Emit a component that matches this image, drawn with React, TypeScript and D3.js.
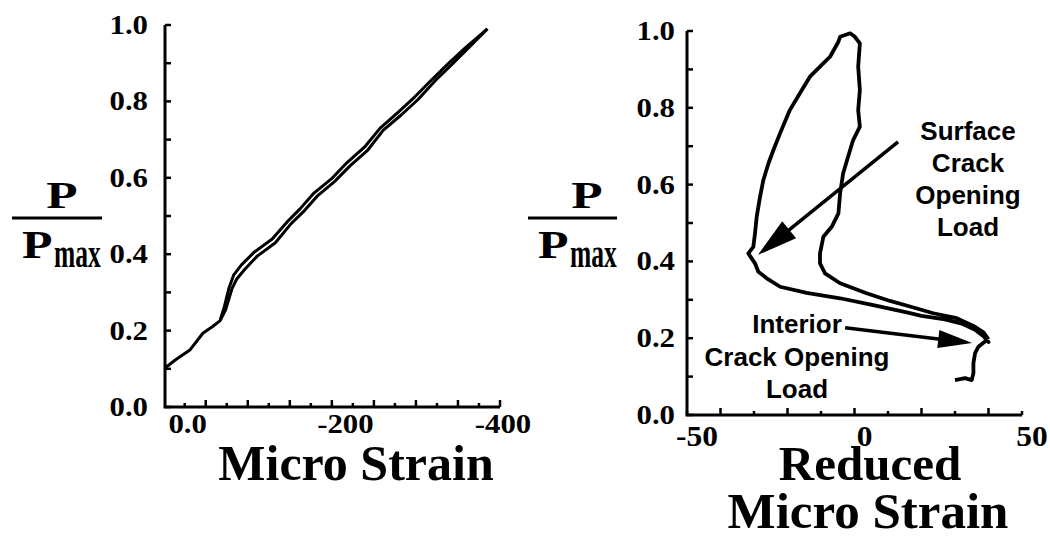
import React from "react";
import * as d3 from "d3";

// left panel: P/Pmax vs micro strain (loading and unloading nearly overlap)
const leftLoadStrain = [25, 12, -7, -23, -35, -45, -52, -60, -66, -76, -92, -115, -135, -150, -168, -190, -210, -232, -252, -275, -296, -318, -338, -360, -384];
const leftLoadP = [0.102, 0.123, 0.15, 0.193, 0.21, 0.226, 0.255, 0.31, 0.335, 0.36, 0.395, 0.43, 0.48, 0.51, 0.552, 0.59, 0.632, 0.672, 0.725, 0.765, 0.805, 0.855, 0.895, 0.94, 0.99];
const leftUnloadStrain = [-384, -357, -335, -314, -292, -271, -248, -228, -206, -186, -164, -146, -131, -111, -88, -72, -62, -56, -50, -45];
const leftUnloadP = [0.99, 0.942, 0.9, 0.858, 0.812, 0.772, 0.73, 0.68, 0.64, 0.597, 0.56, 0.518, 0.487, 0.44, 0.405, 0.372, 0.345, 0.31, 0.26, 0.228];

// right panel: P/Pmax vs reduced micro strain (one continuous trace)
const rightStrain = [30, 33, 35, 35.5, 35.5, 36, 37, 39.5, 40, 38.5, 36, 32, 27, 20, 15.6, 5.6, -4.3, -14.3, -22.2, -26.2, -28.7, -29.7, -31.7, -30.2, -29.7, -29.2, -28.2, -27.2, -25.7, -24.2, -22.2, -19.3, -16.3, -13.3, -10.3, -7.3, -4.8, -4.3, -1.3, 0.1, 1.6, 1.1, 1.6, 1.1, 1.6, -0.4, -1.9, -3.4, -4.3, -4.8, -6.8, -9.3, -10.3, -10.3, -8.8, -4.3, 3.6, 10.6, 17.6, 23.5, 30.5, 35.5, 38.5, 40];
const rightP = [0.091, 0.096, 0.091, 0.109, 0.135, 0.161, 0.178, 0.195, 0.19, 0.205, 0.222, 0.238, 0.249, 0.258, 0.267, 0.286, 0.304, 0.318, 0.334, 0.356, 0.373, 0.395, 0.421, 0.438, 0.473, 0.516, 0.568, 0.612, 0.655, 0.69, 0.734, 0.794, 0.838, 0.881, 0.907, 0.933, 0.972, 0.985, 0.994, 0.985, 0.968, 0.907, 0.846, 0.794, 0.751, 0.716, 0.673, 0.629, 0.577, 0.525, 0.49, 0.464, 0.421, 0.395, 0.369, 0.343, 0.317, 0.297, 0.28, 0.265, 0.252, 0.232, 0.215, 0.197];

const yTickValues = [0, 0.2, 0.4, 0.6, 0.8, 1.0];
const yTickLabels = ["0.0", "0.2", "0.4", "0.6", "0.8", "1.0"];
const leftXTickValues = [0, -200, -400];
const leftXTickLabels = ["0.0", "-200", "-400"];
const rightXTickValues = [-50, 0, 50];
const rightXTickLabels = ["-50", "0", "50"];

// annotation arrows in data units: [fromStrain, fromP, toStrain, toP]
const surfaceArrow = [13, 0.711, -28.8, 0.417];
const interiorArrow = [-2.8, 0.227, 35.1, 0.1875];
const surfaceText = ["Surface", "Crack", "Opening", "Load"];
const interiorText = ["Interior", "Crack Opening", "Load"];

const serif = "'Liberation Serif', 'Times New Roman', serif";
const sans = "'Liberation Sans', Arial, sans-serif";

function SText(props: any) {
  const { x, y, anchor = "middle", size, sx = 1, sy = 1, family = serif, children } = props;
  return (
    <text
      transform={`translate(${x},${y}) scale(${sx},${sy})`}
      textAnchor={anchor}
      fontSize={size}
      fontFamily={family}
      fontWeight="bold"
      fill="#000"
    >
      {children}
    </text>
  );
}

function Arrow(props: any) {
  const { x1, y1, x2, y2, head = 38, half = 10 } = props;
  const dx = x2 - x1, dy = y2 - y1;
  const len = Math.sqrt(dx * dx + dy * dy);
  const ux = dx / len, uy = dy / len;
  const bx = x2 - ux * head, by = y2 - uy * head;
  const pts = [
    [x2, y2],
    [bx - uy * half, by + ux * half],
    [bx + uy * half, by - ux * half],
  ];
  return (
    <g>
      <line x1={x1} y1={y1} x2={bx + ux * 2} y2={by + uy * 2} stroke="#000" strokeWidth={3.5} />
      <polygon points={pts.map((p) => p.join(",")).join(" ")} fill="#000" />
    </g>
  );
}

function Fraction(props: any) {
  const { cx, x0, x1 } = props;
  return (
    <g>
      <SText x={cx} y={208} size={38} sx={1.35}>P</SText>
      <line x1={x0} x2={x1} y1={218} y2={218} stroke="#000" strokeWidth={3} />
      <SText x={x0 + 10} y={258} anchor="start" size={40} sx={1.25}>P</SText>
      <SText x={x0 + 42} y={267} anchor="start" size={30} sx={0.85} sy={1.35}>max</SText>
    </g>
  );
}

export default function App() {
  const yL = d3.scaleLinear().domain([0, 1]).range([407, 25]);
  const xL = d3.scaleLinear().domain([25, -400]).range([165, 500]);
  const yR = d3.scaleLinear().domain([0, 1]).range([415, 31]);
  const xR = d3.scaleLinear().domain([-50, 50]).range([687, 1022]);

  const lineL = d3.line<number>().x((d, i) => xL(leftLoadStrain[i])).y((d, i) => yL(leftLoadP[i]));
  const lineLU = d3.line<number>().x((d, i) => xL(leftUnloadStrain[i])).y((d, i) => yL(leftUnloadP[i]));
  const lineR = d3.line<number>().x((d, i) => xR(rightStrain[i])).y((d, i) => yR(rightP[i]));

  const minorY = d3.range(0, 1.0001, 0.1);
  const leftXMarks = d3.range(16).map((i) => (-400 * i) / 15);
  const rightXMarks = d3.range(-50, 51, 10);

  return (
    <svg
      width={1050}
      height={538}
      style={{ position: "absolute", left: 0, top: 0, background: "#fff" }}
    >
      <rect width={1050} height={538} fill="#fff" />

      {/* ---------- left panel ---------- */}
      <g>
        <path d={`M${xL.range()[0]},${yL(1)}V${yL(0)}H${xL.range()[1]}`} fill="none" stroke="#000" strokeWidth={3} />
        {minorY.map((v) => (
          <line key={v} x1={xL.range()[0]} x2={xL.range()[0] + 6} y1={yL(v)} y2={yL(v)} stroke="#000" strokeWidth={2.5} />
        ))}
        {leftXMarks.map((v, i) => (
          <line key={i} x1={xL(v)} x2={xL(v)} y1={yL(0)} y2={yL(0) - (i % 2 ? 7 : 4)} stroke="#000" strokeWidth={2.5} />
        ))}
        {yTickValues.map((v, i) => (
          <SText key={v} x={148} y={yL(v) + 9} anchor="end" size={28} sx={1.1}>{yTickLabels[i]}</SText>
        ))}
        {leftXTickValues.map((v, i) => (
          <SText key={v} x={xL(v) + 3} y={433} size={28} sx={1.1}>{leftXTickLabels[i]}</SText>
        ))}
        <path d={lineL(leftLoadStrain) || ""} fill="none" stroke="#000" strokeWidth={3} strokeLinejoin="round" />
        <path d={lineLU(leftUnloadStrain) || ""} fill="none" stroke="#000" strokeWidth={3} strokeLinejoin="round" />
        <Fraction cx={62} x0={12} x1={102} />
        <SText x={356} y={480} size={50}>Micro Strain</SText>
      </g>

      {/* ---------- right panel ---------- */}
      <g>
        <path d={`M${xR.range()[0]},${yR(1)}V${yR(0)}H${xR.range()[1]}`} fill="none" stroke="#000" strokeWidth={3} />
        {minorY.map((v) => (
          <line key={v} x1={xR.range()[0]} x2={xR.range()[0] + 6} y1={yR(v)} y2={yR(v)} stroke="#000" strokeWidth={2.5} />
        ))}
        {rightXMarks.map((v, i) => (
          <line key={v} x1={xR(v)} x2={xR(v)} y1={yR(0)} y2={yR(0) - (i % 2 ? 7 : 4)} stroke="#000" strokeWidth={2.5} />
        ))}
        {yTickValues.map((v, i) => (
          <SText key={v} x={675} y={yR(v) + 9} anchor="end" size={28} sx={1.1}>{yTickLabels[i]}</SText>
        ))}
        {rightXTickValues.map((v, i) => (
          <SText key={v} x={xR(v) + 10} y={446} size={30} sx={1.05}>{rightXTickLabels[i]}</SText>
        ))}
        <path d={lineR(rightStrain) || ""} fill="none" stroke="#000" strokeWidth={3.8} strokeLinejoin="round" />
        <Fraction cx={587} x0={528} x1={617} />

        <Arrow x1={xR(surfaceArrow[0])} y1={yR(surfaceArrow[1])} x2={xR(surfaceArrow[2])} y2={yR(surfaceArrow[3])} head={40} half={11} />
        <Arrow x1={xR(interiorArrow[0])} y1={yR(interiorArrow[1])} x2={xR(interiorArrow[2])} y2={yR(interiorArrow[3])} head={34} half={9} />

        {surfaceText.map((t, i) => (
          <SText key={t} x={968} y={140 + i * 32} size={26} family={sans}>{t}</SText>
        ))}
        {interiorText.map((t, i) => (
          <SText key={t + i} x={797} y={333 + i * 32.5} size={26} family={sans}>{t}</SText>
        ))}

        <SText x={870} y={480} size={49}>Reduced</SText>
        <SText x={868} y={528} size={51}>Micro Strain</SText>
      </g>
    </svg>
  );
}
